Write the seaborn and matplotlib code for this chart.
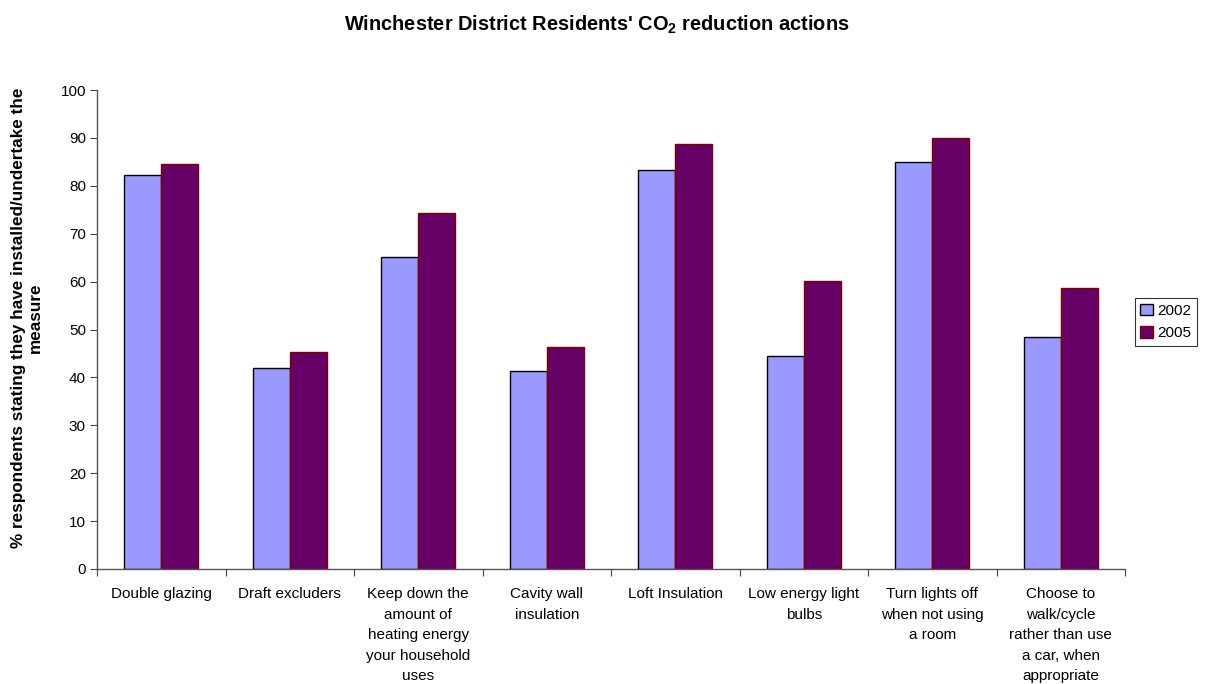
import matplotlib
matplotlib.use("Agg")
import matplotlib.pyplot as plt
import seaborn as sns
import pandas as pd

categories = [
    "Double glazing",
    "Draft excluders",
    "Keep down the\namount of\nheating energy\nyour household\nuses",
    "Cavity wall\ninsulation",
    "Loft Insulation",
    "Low energy light\nbulbs",
    "Turn lights off\nwhen not using\na room",
    "Choose to\nwalk/cycle\nrather than use\na car, when\nappropriate",
]
years = ["2002", "2005"]
values_2002 = [82.2, 42.0, 65.1, 41.3, 83.3, 44.5, 85.0, 48.5]
values_2005 = [84.6, 45.2, 74.3, 46.3, 88.8, 60.2, 90.0, 58.7]
yticks = list(range(0, 101, 10))

df = pd.DataFrame({
    "category": categories * 2,
    "year": [years[0]] * len(categories) + [years[1]] * len(categories),
    "value": values_2002 + values_2005,
})

sns.set_theme(style="white")
plt.rcParams['font.family'] = ['Liberation Sans', 'DejaVu Sans']
plt.rcParams['mathtext.fontset'] = 'custom'
plt.rcParams['mathtext.rm'] = 'Liberation Sans:bold'
plt.rcParams['mathtext.bf'] = 'Liberation Sans:bold'
plt.rcParams['text.color'] = 'black'
plt.rcParams['axes.labelcolor'] = 'black'
plt.rcParams['xtick.color'] = 'black'
plt.rcParams['ytick.color'] = 'black'

fig = plt.figure(figsize=(12.07, 6.84), dpi=100)
ax = fig.add_axes([97/1207, 1 - 569/684, (1125-97)/1207, (569-90)/684])

palette = {"2002": "#9999FF", "2005": "#660066"}
sns.barplot(data=df, x="category", y="value", hue="year", order=categories,
            hue_order=years, palette=palette, width=0.572, gap=0,
            saturation=1, ax=ax, legend=True)

edge = {"2002": "#000000", "2005": "#800000"}
for cont, yr in zip(ax.containers, years):
    for p in cont:
        p.set_edgecolor(edge[yr])
        p.set_linewidth(1.0)

ax.set_ylim(0, 100)
ax.set_xlim(-0.5, len(categories) - 0.5)
ax.set_yticks(yticks)
ax.set_yticklabels([str(t) for t in yticks], fontsize=11)
ax.tick_params(axis='y', length=5, width=0.8, color='#444444', labelcolor='black', pad=3, left=True)
ax.set_xticks([i - 0.5 for i in range(len(categories) + 1)], minor=True)
ax.tick_params(axis='x', which='minor', length=5, width=0.8, color='#444444', bottom=True)
ax.tick_params(axis='x', which='major', length=0, pad=13, labelcolor='black')
ax.set_xticklabels(categories, fontsize=11, linespacing=1.6, va='top')

for s in ['top', 'right']:
    ax.spines[s].set_visible(False)
for s in ['left', 'bottom']:
    ax.spines[s].set_color('#555555')
    ax.spines[s].set_linewidth(1.0)

ax.set_xlabel("")
ax.set_ylabel("% respondents stating they have installed/undertake the\nmeasure",
              fontsize=12.3, fontweight='bold', linespacing=1.1, color='black',
              va='center')
ax.yaxis.set_label_coords(27/1207, 1 - 318/684, transform=fig.transFigure)

fig.text(597/1207, 1 - 25/684, "Winchester District Residents' CO$_2$ reduction actions",
         ha='center', va='center', fontsize=14.4, fontweight='bold', color='black')

leg = ax.legend(loc='center left', bbox_to_anchor=(1135/1207, 1 - 322/684),
                bbox_transform=fig.transFigure, frameon=True, fancybox=False,
                fontsize=11, handlelength=0.8, handleheight=0.8, handletextpad=0.3,
                borderpad=0.35, labelspacing=0.55, borderaxespad=0)
leg.get_frame().set_edgecolor('#000000')
leg.get_frame().set_linewidth(0.8)
for h, yr in zip(leg.legend_handles, years):
    h.set_edgecolor(edge[yr])
for t in leg.get_texts():
    t.set_color('black')

fig.savefig("out.png", dpi=100)
